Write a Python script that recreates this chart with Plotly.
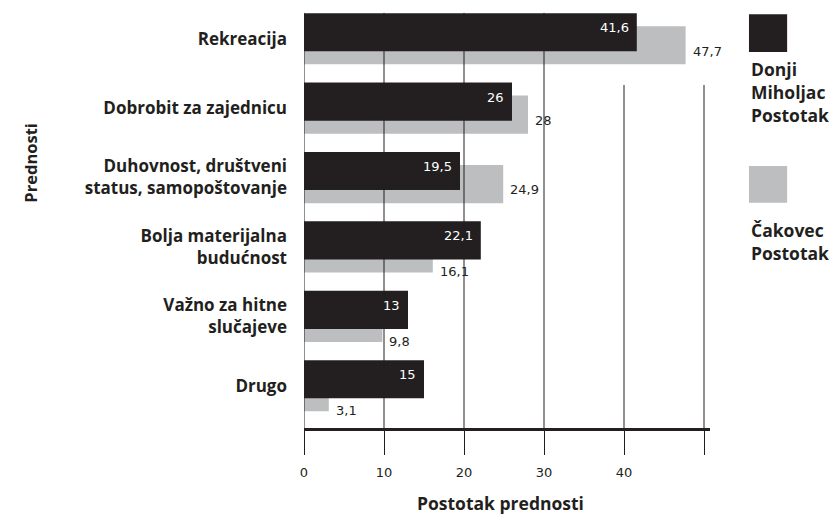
import plotly.graph_objects as go

# podaci
kategorije = [
    "Rekreacija",
    "Dobrobit za zajednicu",
    "Duhovnost, društveni<br>status, samopoštovanje",
    "Bolja materijalna<br>budućnost",
    "Važno za hitne<br>slučajeve",
    "Drugo",
]
donji_miholjac = [41.6, 26, 19.5, 22.1, 13, 15]
cakovec = [47.7, 28, 24.9, 16.1, 9.8, 3.1]
x_ticks = [0, 10, 20, 30, 40, 50]
x_tick_labels = ["0", "10", "20", "30", "40", ""]

DARK = "#231f20"
GREY = "#bcbec0"
LABEL_FONT = "Open Sans"
NUM_FONT = "DejaVu Sans"
W = 700


def fmt(v):
    return f"{v:g}".replace(".", ",")


fig = go.Figure()

# sivi stupci ispod, tamni preko njih
fig.add_trace(go.Bar(
    y=kategorije, x=cakovec, orientation="h",
    marker=dict(color=GREY, line_width=0),
    width=0.55, offset=-0.18,
    name="Čakovec Postotak", hoverinfo="x",
))
fig.add_trace(go.Bar(
    y=kategorije, x=donji_miholjac, orientation="h",
    marker=dict(color=DARK, line_width=0),
    width=0.55, offset=-0.368,
    name="Donji Miholjac Postotak", hoverinfo="x",
))

annotations = []
for kat, dm, ck in zip(kategorije, donji_miholjac, cakovec):
    annotations.append(dict(
        x=dm, y=kat, text=fmt(dm), showarrow=False,
        xanchor="right", xshift=-6, yshift=11,
        font=dict(family=NUM_FONT, size=13, color="white"),
    ))
    # oznaka sive vrijednosti spušta se ako bi je prekrio tamni stupac
    annotations.append(dict(
        x=ck, y=kat, text=fmt(ck), showarrow=False,
        xanchor="left", xshift=5, yshift=-12.5 if ck > dm else -25,
        font=dict(family=NUM_FONT, size=13, color=DARK),
    ))

# naslovi osi
annotations.append(dict(
    x=-0.707, y=0.726, xref="paper", yref="paper", text="Prednosti",
    textangle=-90, showarrow=False,
    font=dict(family=LABEL_FONT, size=16.5, color=DARK, weight=W),
))
annotations.append(dict(
    x=0.483, y=-0.21, xref="paper", yref="paper", text="Postotak prednosti",
    showarrow=False, font=dict(family=LABEL_FONT, size=17.5, color=DARK, weight=W),
))

# legenda
annotations.append(dict(
    x=1.096, y=0.879, xref="paper", yref="paper", xanchor="left", yanchor="top",
    align="left", text="Donji<br>Miholjac<br>Postotak", showarrow=False,
    font=dict(family=LABEL_FONT, size=17.5, color=DARK, weight=W),
))
annotations.append(dict(
    x=1.096, y=0.500, xref="paper", yref="paper", xanchor="left", yanchor="top",
    align="left", text="Čakovec<br>Postotak", showarrow=False,
    font=dict(family=LABEL_FONT, size=17.5, color=DARK, weight=W),
))

shapes = [
    dict(type="rect", xref="paper", yref="paper", x0=1.096, x1=1.190,
         y0=0.887, y1=0.976, fillcolor=DARK, line_width=0),
    dict(type="rect", xref="paper", yref="paper", x0=1.096, x1=1.190,
         y0=0.531, y1=0.618, fillcolor=GREY, line_width=0),
]
# okomite linije mreže preko stupaca
for t in x_ticks:
    shapes.append(dict(
        type="line", xref="x", yref="paper", x0=t, x1=t,
        y0=0, y1=0.979 if t < 40 else 0.809,
        line=dict(color=DARK, width=1), layer="above",
    ))

fig.update_layout(
    barmode="overlay",
    width=832, height=528,
    margin=dict(l=304, r=122, t=4, b=100),
    plot_bgcolor="white",
    paper_bgcolor="white",
    showlegend=False,
    annotations=annotations,
    shapes=shapes,
    font=dict(family=LABEL_FONT, color=DARK),
)

fig.update_xaxes(
    range=[0, 50.75],
    tickvals=x_ticks, ticktext=x_tick_labels,
    showgrid=False, zeroline=False,
    showline=True, linecolor=DARK, linewidth=3,
    ticks="outside", ticklen=24, tickcolor=DARK, tickwidth=1,
    tickfont=dict(family=NUM_FONT, size=13, color=DARK),
    ticklabelstandoff=6,
    automargin=False, fixedrange=True,
)

fig.update_yaxes(
    range=[5.61, -0.5],
    showgrid=False, zeroline=False, showline=False,
    ticks="", ticklabelstandoff=16,
    tickfont=dict(family=LABEL_FONT, size=17, color=DARK, weight=W),
    automargin=False, fixedrange=True,
)

fig.write_html(
    "out.html",
    config={"displayModeBar": False},
    post_script="document.body.style.margin='0';",
)
